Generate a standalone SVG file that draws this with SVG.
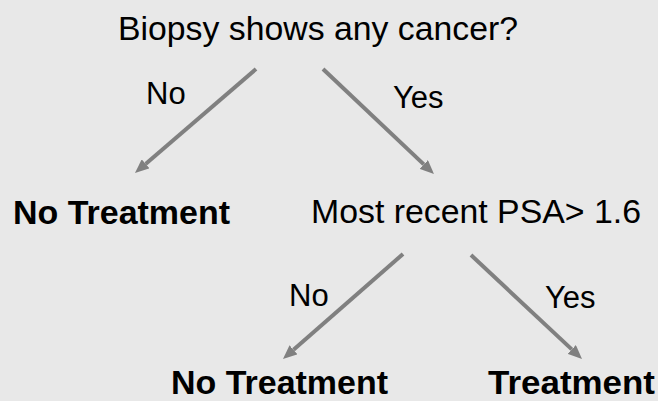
<svg xmlns="http://www.w3.org/2000/svg" width="658" height="401" viewBox="0 0 658 401">
<style>
  .t { font-family: "Liberation Sans", Arial, Helvetica, sans-serif; fill: #000; }
  .b { font-weight: bold; font-size: 33px; }
  .n { font-size: 33px; }
  .lbl { font-size: 31px; }
  .edge { stroke: #808080; stroke-width: 4; fill: none; marker-end: url(#ah); }
</style>
<defs>
  <marker id="ah" viewBox="0 0 14 12" refX="0" refY="6" markerWidth="14" markerHeight="12" markerUnits="userSpaceOnUse" orient="auto">
    <path d="M0,0 L14,6 L0,12 z" fill="#808080"/>
  </marker>
</defs>
<rect width="658" height="401" fill="#e8e8e8"/>
<g id="connectors">
  <line class="edge" x1="256" y1="69" x2="145.6" y2="163.9"/>
  <line class="edge" x1="323" y1="69" x2="423.8" y2="164.4"/>
  <line class="edge" x1="403" y1="254" x2="293.5" y2="349.8"/>
  <line class="edge" x1="471" y1="255" x2="571.8" y2="349.4"/>
  <text class="t lbl" x="146" y="104">No</text>
  <text class="t lbl" x="393" y="108">Yes</text>
  <text class="t lbl" x="289" y="306">No</text>
  <text class="t lbl" x="545" y="308">Yes</text>
</g>
<g id="q1"><text class="t n" x="118" y="40" textLength="400" lengthAdjust="spacingAndGlyphs">Biopsy shows any cancer?</text></g>
<g id="noTreat1"><text class="t b" x="13" y="224" textLength="217" lengthAdjust="spacingAndGlyphs">No Treatment</text></g>
<g id="q2"><text class="t n" x="311" y="223" textLength="330" lengthAdjust="spacingAndGlyphs">Most recent PSA&gt; 1.6</text></g>
<g id="noTreat2"><text class="t b" x="171" y="394" textLength="217" lengthAdjust="spacingAndGlyphs">No Treatment</text></g>
<g id="treat"><text class="t b" x="488" y="394" textLength="167" lengthAdjust="spacingAndGlyphs">Treatment</text></g>
</svg>
